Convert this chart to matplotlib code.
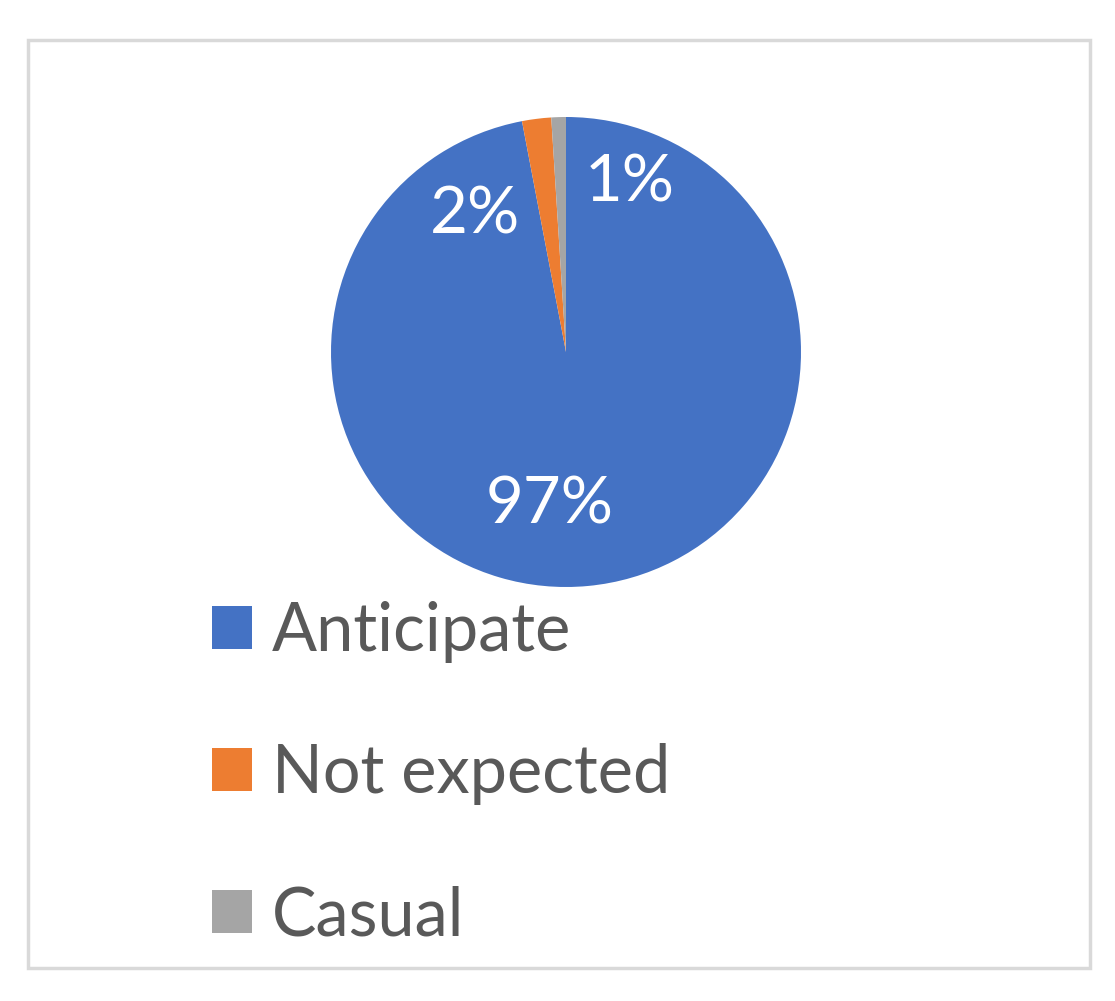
import matplotlib
matplotlib.use("Agg")
import matplotlib.pyplot as plt
from matplotlib.patches import Rectangle

categories = ["Anticipate", "Not expected", "Casual"]
values = [97, 2, 1]
colors = ["#4472C4", "#ED7D31", "#A5A5A5"]
label_texts = ["97%", "2%", "1%"]

plt.rcParams['font.family'] = ['Lato', 'DejaVu Sans']

W, H = 1115, 1001
fig = plt.figure(figsize=(W/100, H/100), dpi=100)

# frame
fig.patches.append(Rectangle((28/W, 1-968/H), (1090-28)/W, (968-40)/H,
                             transform=fig.transFigure, fill=False,
                             edgecolor="#D9D9D9", linewidth=2.5))

cx, cy, r = 566, 352, 235
ax = fig.add_axes([(cx-r)/W, (H-cy-r)/H, 2*r/W, 2*r/H])
wedges, _ = ax.pie(values, colors=colors, startangle=90, counterclock=False,
                   radius=1, wedgeprops=dict(linewidth=0))
ax.set_xlim(-1, 1); ax.set_ylim(-1, 1)
ax.set_aspect('equal')

# label positions (in pie-radius units)
label_pos = [((550-cx)/r, -(505-cy)/r), ((475-cx)/r, -(215-cy)/r), ((630-cx)/r, -(183-cy)/r)]
for (x, y), t in zip(label_pos, label_texts):
    ax.text(x, y, t, ha='center', va='center', color='white', fontsize=47)

leg = fig.legend(wedges, categories, loc='upper left',
                 bbox_to_anchor=(152/W, 1-541/H), frameon=False,
                 fontsize=48, labelcolor="#595959", handlelength=0.6,
                 handleheight=0.6, handletextpad=0.3, labelspacing=1.2)

fig.savefig("out.png", dpi=100)
